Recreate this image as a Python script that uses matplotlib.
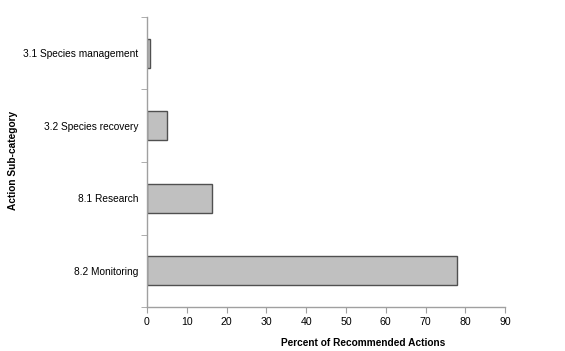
import matplotlib
matplotlib.use("Agg")
import matplotlib.pyplot as plt

categories = ["3.1 Species management", "3.2 Species recovery", "8.1 Research", "8.2 Monitoring"]
values = [0.7, 5.1, 16.3, 78.0]
xticks = [0, 10, 20, 30, 40, 50, 60, 70, 80, 90]

plt.rcParams['font.family'] = ['Liberation Sans', 'DejaVu Sans']
fs = 7.3

fig = plt.figure(figsize=(5.65, 3.51), dpi=100)
ax = fig.add_axes([0.260, 0.125, 0.634, 0.827])

ypos = list(range(len(categories)))
ax.barh(ypos, values, height=0.4, color="#c0c0c0", edgecolor="#505050", linewidth=1.0)
ax.set_ylim(len(categories) - 0.5, -0.5)
ax.set_xlim(0, 90)
ax.set_xticks(xticks)
ax.set_xticklabels([str(t) for t in xticks], fontsize=fs + 0.3)
ax.set_yticks(ypos)
ax.set_yticklabels(categories, fontsize=fs)
ax.tick_params(axis='y', length=0, pad=6)
ax.set_yticks([i - 0.5 for i in range(len(categories) + 1)], minor=True)
ax.tick_params(axis='y', which='minor', length=4, color="#a0a0a0", direction='out')
ax.tick_params(axis='x', length=4, color="#a0a0a0", direction='out', pad=3)

for s in ["top", "right"]:
    ax.spines[s].set_visible(False)
for s in ["left", "bottom"]:
    ax.spines[s].set_color("#a0a0a0")
    ax.spines[s].set_linewidth(1.0)

ax.set_xlabel("Percent of Recommended Actions", fontsize=fs, fontweight="bold")
ax.xaxis.set_label_coords(0.603, -0.108)
ax.set_ylabel("Action Sub-category", fontsize=fs, fontweight="bold")
ax.yaxis.set_label_coords(-0.36, 0.507)

fig.savefig("out.png", dpi=100)
